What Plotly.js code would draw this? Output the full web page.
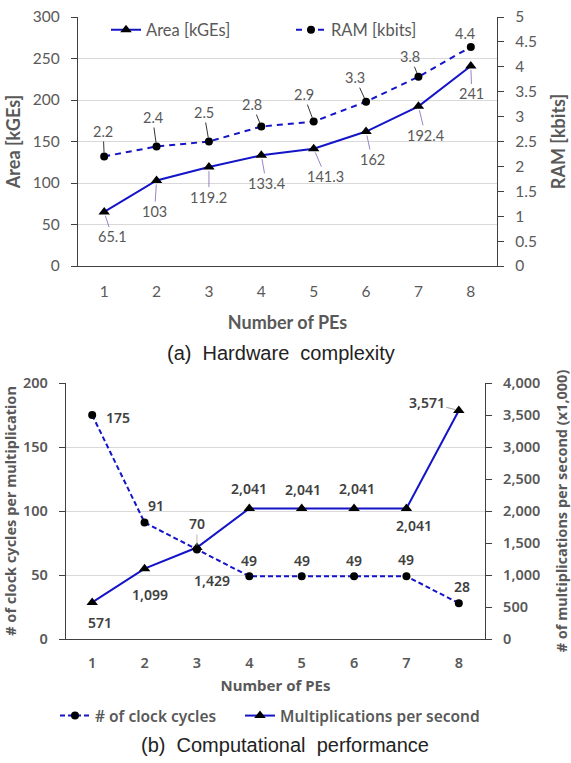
<!DOCTYPE html>
<html>
<head>
<meta charset="utf-8">
<script src="https://cdn.plot.ly/plotly-3.0.1.min.js"></script>
<style>html,body{margin:0;padding:0;background:#fff;}#chart{width:571px;height:763px;}</style>
</head>
<body>
<div id="chart"></div>
<script>
// ---- data ----
const pes = ["1","2","3","4","5","6","7","8"];
const areaKGE = [65.1, 103, 119.2, 133.4, 141.3, 162, 192.4, 241];
const ramKbits = [2.2, 2.4, 2.5, 2.8, 2.9, 3.3, 3.8, 4.4];
const clockCycles = [175, 91, 70, 49, 49, 49, 49, 28];
const multsPerSec = [571, 1099, 1429, 2041, 2041, 2041, 2041, 3571];

// ---- styles ----
const BLUE = "#1414c8";
const GRAY = "#595959";
const topFont = "Lato, 'Liberation Sans', sans-serif";
const botFont = "'Noto Sans', 'Open Sans', sans-serif";
const W = 571, H = 763;
const px = v => v / W, py = v => 1 - v / H;

const traces = [
  {x: pes, y: areaKGE, xaxis: "x", yaxis: "y", name: "Area [kGEs]", mode: "lines+markers",
   line: {color: BLUE, width: 2}, marker: {symbol: "triangle-up", size: 10, color: "#000"}, legend: "legend"},
  {x: pes, y: ramKbits, xaxis: "x", yaxis: "y2", name: "RAM [kbits]", mode: "lines+markers",
   line: {color: BLUE, width: 2, dash: "6px,5px"}, marker: {symbol: "circle", size: 8, color: "#000"}, legend: "legend"},
  {x: pes, y: clockCycles, xaxis: "x2", yaxis: "y3", name: "# of clock cycles", mode: "lines+markers",
   line: {color: BLUE, width: 2, dash: "5px,3px"}, marker: {symbol: "circle", size: 8, color: "#000"}, legend: "legend2"},
  {x: pes, y: multsPerSec, xaxis: "x2", yaxis: "y4", name: "Multiplications per second", mode: "lines+markers",
   line: {color: BLUE, width: 2}, marker: {symbol: "triangle-up", size: 10, color: "#000"}, legend: "legend3"}
];

// label offsets (pixels) and leader flags
const areaOff = [[8,25,1],[-2,31,1],[0,30,1],[5,28,1],[12,28,1],[6,28,1],[7,29,1],[1,28,1]];
const ramOff  = [[-1,-25,1],[-4,-29,1],[-5,-29,1],[-9,-22,1],[-10,-27,1],[-11,-24,1],[-8,-20,1],[-6,-13,0]];
const clkOff  = [[26,2,0],[11,-17,0],[0,-26,1],[0,-16,0],[0,-16,0],[0,-16,0],[0,-17,0],[3,-17,0]];
const mulOff  = [[8,20,0],[5,26,0],[15,33,0],[0,-20,0],[1,-19,0],[3,-20,0],[8,17,0],[-32,-8,1]];

const ann = [];
function addLabels(vals, off, xref, yref, fmt, font, arrowColor) {
  vals.forEach((v, i) => {
    const o = off[i];
    ann.push({
      x: i, y: v, xref: xref, yref: yref, text: fmt(v),
      showarrow: true, ax: o[0], ay: o[1], arrowhead: 0, arrowwidth: o[2] ? 0.8 : 0.01,
      arrowcolor: o[2] ? arrowColor : "rgba(0,0,0,0)", standoff: 4, font: font
    });
  });
}
const topLblFont = {family: topFont, size: 14.5, color: GRAY};
const botLblFont = {family: botFont, size: 14, color: "#404040", weight: 600};
addLabels(areaKGE, areaOff, "x", "y", v => String(v), topLblFont, "#8060c0");
addLabels(ramKbits, ramOff, "x", "y2", v => String(v), topLblFont, "#000");
addLabels(clockCycles, clkOff, "x2", "y3", v => String(v), botLblFont, "#aaa");
addLabels(multsPerSec, mulOff, "x2", "y4", v => v.toLocaleString("en-US"), botLblFont, "#888");

const capFont = {family: "'Liberation Sans Narrow', 'Liberation Sans', sans-serif", size: 20, color: "#222"};
ann.push({xref: "paper", yref: "paper", x: px(281), y: py(353), xanchor: "center", yanchor: "middle",
  text: "(a)&nbsp;&nbsp;Hardware&nbsp;&nbsp;complexity", showarrow: false, font: capFont});
ann.push({xref: "paper", yref: "paper", x: px(285), y: py(745), xanchor: "center", yanchor: "middle",
  text: "(b)&nbsp;&nbsp;Computational&nbsp;&nbsp;performance", showarrow: false, font: capFont});

const axLine = "#404040";
const topTick = {family: topFont, size: 15.5, color: GRAY};
const botTick = {family: botFont, size: 14.5, color: GRAY, weight: 600};
const botLegFont = {family: botFont, size: 15.5, color: GRAY, weight: 600};

const layout = {
  width: W, height: H, margin: {l: 0, r: 0, t: 0, b: 0},
  paper_bgcolor: "#fff", plot_bgcolor: "#fff",
  showlegend: true,
  xaxis: {domain: [px(78), px(497)], anchor: "y", type: "category", range: [-0.5, 7.5],
    showline: true, linecolor: axLine, linewidth: 1.2, ticks: "", tickfont: topTick, ticklabelstandoff: 11,
    showgrid: false, zeroline: false,
    title: {text: "Number of PEs", font: {family: topFont, size: 18, color: GRAY, weight: "bold"}, standoff: 17}},
  yaxis: {domain: [py(266), py(17)], anchor: "x", range: [0, 300], dtick: 50,
    showline: true, linecolor: axLine, linewidth: 1.2, ticks: "outside", ticklen: 6, tickcolor: axLine,
    tickfont: topTick, ticklabelstandoff: 8, showgrid: true, gridcolor: "#d9d9d9", zeroline: false,
    title: {text: "Area [kGEs]", font: {family: topFont, size: 18, color: GRAY, weight: "bold"}, standoff: 7}},
  yaxis2: {domain: [py(266), py(17)], anchor: "x", overlaying: "y", side: "right", range: [0, 5], dtick: 0.5,
    showline: true, linecolor: axLine, linewidth: 1.2, ticks: "outside", ticklen: 6, tickcolor: axLine,
    tickfont: topTick, ticklabelstandoff: 8, showgrid: false, zeroline: false,
    title: {text: "RAM [kbits]", font: {family: topFont, size: 18, color: GRAY, weight: "bold"}, standoff: 16}},
  xaxis2: {domain: [px(66), px(485)], anchor: "y3", type: "category", range: [-0.5, 7.5],
    showline: true, linecolor: axLine, linewidth: 1.2, ticks: "", tickfont: botTick, ticklabelstandoff: 10,
    showgrid: false, zeroline: false,
    title: {text: "Number of PEs", font: {family: botFont, size: 15, color: GRAY, weight: "bold"}, standoff: 10}},
  yaxis3: {domain: [py(639), py(383)], anchor: "x2", range: [0, 200], dtick: 50,
    showline: true, linecolor: axLine, linewidth: 1.2, ticks: "outside", ticklen: 6, tickcolor: axLine,
    tickfont: botTick, ticklabelstandoff: 8, showgrid: true, gridcolor: "#d9d9d9", zeroline: false,
    title: {text: "# of clock cycles per multiplication", font: {family: botFont, size: 14.5, color: GRAY, weight: "bold"}, standoff: 12}},
  yaxis4: {domain: [py(639), py(383)], anchor: "x2", overlaying: "y3", side: "right", range: [0, 4000], dtick: 500,
    tickformat: ",", showline: true, linecolor: axLine, linewidth: 1.2, ticks: "outside", ticklen: 6, tickcolor: axLine,
    tickfont: botTick, ticklabelstandoff: 8, showgrid: false, zeroline: false,
    title: {text: "# of multiplications per second (x1,000)", font: {family: botFont, size: 14.5, color: GRAY, weight: "bold"}, standoff: 17}},
  legend: {orientation: "h", x: px(106), y: py(30), xanchor: "left", yanchor: "middle",
    bgcolor: "rgba(255,255,255,0)", font: {family: topFont, size: 16.5, color: GRAY}, entrywidth: 140, tracegroupgap: 0},
  legend2: {orientation: "h", x: px(55), y: py(716), xanchor: "left", yanchor: "middle",
    bgcolor: "rgba(255,255,255,0)", font: botLegFont},
  legend3: {orientation: "h", x: px(240), y: py(716), xanchor: "left", yanchor: "middle",
    bgcolor: "rgba(255,255,255,0)", font: botLegFont},
  annotations: ann
};

Plotly.newPlot("chart", traces, layout, {displayModeBar: false, staticPlot: true});
</script>
</body>
</html>
